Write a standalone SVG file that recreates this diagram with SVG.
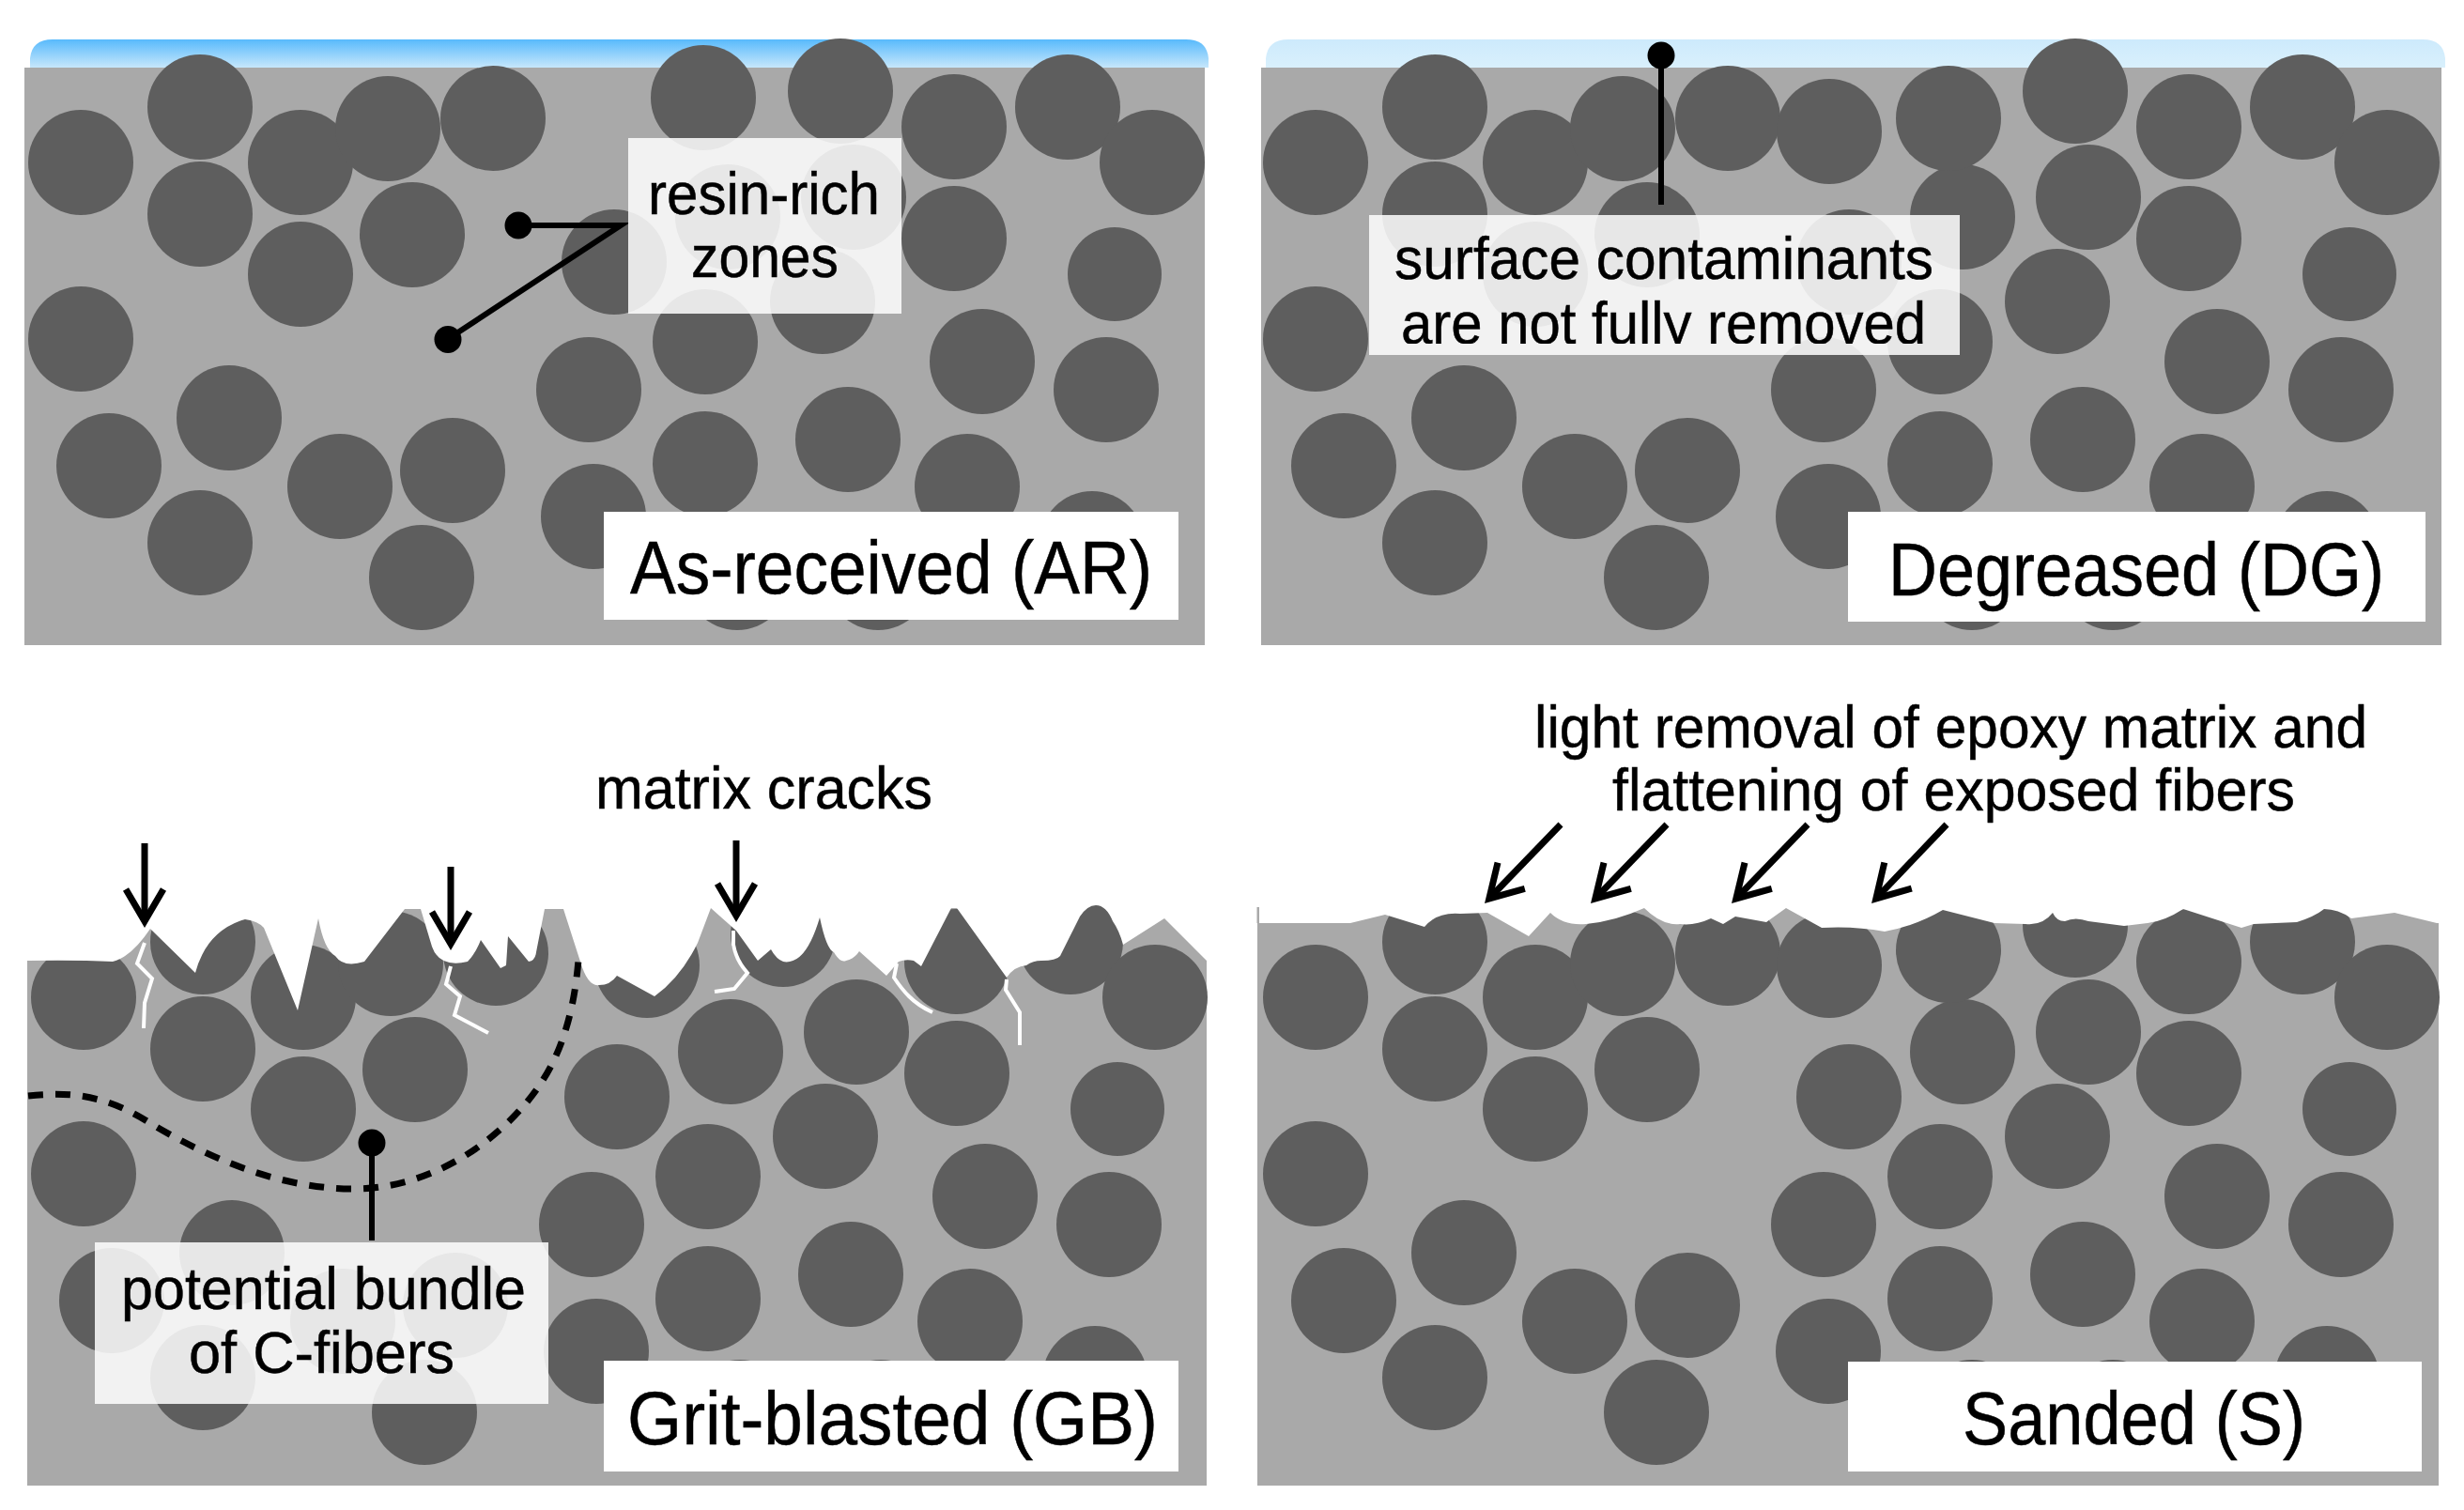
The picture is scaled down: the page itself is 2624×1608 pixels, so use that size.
<svg xmlns="http://www.w3.org/2000/svg" xmlns:xlink="http://www.w3.org/1999/xlink" width="2624" height="1608" viewBox="0 0 2624 1608">
<style>
.bg{fill:#fff}
.matrix{fill:#a9a9a9}
.fiber{fill:#5e5e5e}
.cut{fill:#fff}
.crack{fill:none;stroke:#fff;stroke-width:4;stroke-linejoin:miter}
.label{fill:#fff;fill-opacity:.85}
.title{fill:#fff}
text{font-family:"Liberation Sans",Arial,sans-serif;fill:#000;stroke:#000;stroke-width:.5;transform:translateY(1.5px)}
.s{font-size:63px}
.b{font-size:79px}
.pin{fill:none;stroke:#000;stroke-width:6}
.dot{fill:#000}
.arrow{fill:none;stroke:#000;stroke-width:7;marker-end:url(#head)}
.dash{fill:none;stroke:#000;stroke-width:7;stroke-dasharray:16 13}
</style>
<defs>
<linearGradient id="film1" x1="0" y1="0" x2="0" y2="1"><stop offset="0" stop-color="#58bafc"/><stop offset="1" stop-color="#c6e7fb"/></linearGradient>
<linearGradient id="film2" x1="0" y1="0" x2="0" y2="1"><stop offset="0" stop-color="#cdeafc"/><stop offset="1" stop-color="#d9f0fc"/></linearGradient>
<marker id="head" markerUnits="userSpaceOnUse" viewBox="-50 -30 60 60" markerWidth="60" markerHeight="60" refX="0" refY="0" orient="auto" overflow="visible"><path d="M-33,-20L1,0L-33,20" fill="none" stroke="#000" stroke-width="7"/></marker>
<clipPath id="clipDG"><rect x="1457" y="300" width="629" height="66"/></clipPath>
<g id="fibers" class="fiber">
<circle cx="86" cy="172" r="56"/><circle cx="213" cy="113" r="56"/><circle cx="213" cy="227" r="56"/><circle cx="320" cy="172" r="56"/><circle cx="413" cy="136" r="56"/><circle cx="525" cy="125" r="56"/><circle cx="320" cy="291" r="56"/><circle cx="439" cy="249" r="56"/><circle cx="1016" cy="134" r="56"/><circle cx="1137" cy="113" r="56"/><circle cx="1227" cy="172" r="56"/><circle cx="775" cy="230" r="56"/><circle cx="909" cy="209" r="56"/><circle cx="1016" cy="253" r="56"/><circle cx="876" cy="320" r="56"/><circle cx="1187" cy="291" r="50"/><circle cx="654" cy="278" r="56"/><circle cx="86" cy="360" r="56"/><circle cx="244" cy="444" r="56"/><circle cx="116" cy="495" r="56"/><circle cx="362" cy="517" r="56"/><circle cx="482" cy="500" r="56"/><circle cx="213" cy="577" r="56"/><circle cx="449" cy="614" r="56"/><circle cx="627" cy="414" r="56"/><circle cx="751" cy="363" r="56"/><circle cx="1046" cy="384" r="56"/><circle cx="1178" cy="414" r="56"/><circle cx="903" cy="467" r="56"/><circle cx="751" cy="493" r="56"/><circle cx="632" cy="549" r="56"/><circle cx="1030" cy="517" r="56"/><circle cx="1163" cy="578" r="56"/><circle cx="785" cy="614" r="56"/><circle cx="935" cy="614" r="56"/>
</g>
</defs>
<rect class="bg" width="2624" height="1608"/>
<g id="panel-AR">
<path d="M32 72V62Q34 42 56 42H1263Q1285 42 1287 62V72Z" fill="url(#film1)"/>
<rect class="matrix" x="26" y="72" width="1257" height="615"/>
<use xlink:href="#fibers" href="#fibers" transform="translate(0 1)"/>
<g class="fiber"><circle cx="749" cy="104" r="56"/><circle cx="895" cy="97" r="56"/></g>
</g>
<g id="panel-DG">
<path d="M1348 72V62Q1350 42 1372 42H2580Q2602 42 2604 62V72Z" fill="url(#film2)"/>
<rect class="matrix" x="1343" y="72" width="1257" height="615"/>
<use xlink:href="#fibers" href="#fibers" transform="translate(1315 1)"/>
<g class="fiber"><circle cx="1948" cy="140" r="56"/><circle cx="2075" cy="126" r="56"/><circle cx="2210" cy="97" r="56"/></g>
</g>
<g id="panel-GB">
<rect class="matrix" x="29" y="966" width="1256" height="616"/>
<use xlink:href="#fibers" href="#fibers" transform="translate(3 890)"/>
<g class="fiber"><circle cx="689" cy="1028" r="56"/><circle cx="834" cy="995" r="56"/></g>
<path class="cut" transform="translate(0 1)" d="M20 900V1022L29 1022Q80 1021 120 1023Q140 1018 160 988L208 1035Q220 990 261 978Q275 980 281 987L317 1075L339 977Q345 1010 357 1017Q366 1030 388 1023L431 967H448L460 1007Q468 1030 498 1023Q506 1015 512 1000L533 1030L539 1027L541 996L563 1023Q570 1022 571 1013L580 967H600L618 1023Q626 1050 638 1048Q650 1048 657 1038L697 1060Q725 1040 743 1003L757 966L784 990L807 1022L821 1010Q830 1026 841 1023Q860 1020 873 976Q880 1010 888 1013Q895 1025 901 1022Q910 1020 915 1012L944 1038L957 1023Q965 1020 973 1022L981 1028L1013 966H1019L1072 1040Q1080 1028 1093 1027Q1100 1022 1109 1022Q1125 1022 1129 1017Q1145 985 1150 975Q1158 963 1167 963Q1178 963 1185 980Q1192 990 1196 1005L1240 977L1285 1022L1290 1022V900Z"/>
<g transform="translate(0 1)">
<path class="crack" d="M154 1003L146 1025L162 1041L154 1067L153 1094"/>
<path class="crack" d="M480 1028L475 1047L490 1060L484 1080L520 1099"/>
<path class="crack" d="M781 990V1005Q784 1022 796 1035L782 1052L761 1055"/>
<path class="crack" d="M955 1025L952 1040Q960 1052 968 1060Q978 1070 993 1077"/>
<path class="crack" d="M1072 1042L1071 1053L1086 1077V1112"/>
</g>
</g>
<g id="panel-S">
<rect class="matrix" x="1339" y="966" width="1258" height="616"/>
<use xlink:href="#fibers" href="#fibers" transform="translate(1315 890)"/>
<g class="fiber"><circle cx="1948" cy="1028" r="56"/><circle cx="2075" cy="1012" r="56"/><circle cx="2210" cy="985" r="56"/></g>
<path class="cut" transform="translate(0 1)" d="M1341 900V982H1438L1475 973L1517 986Q1530 970 1555 972L1584 971L1628 996L1651 971Q1665 985 1689 983Q1720 980 1751 966Q1770 985 1789 983Q1805 985 1822 977L1835 983L1848 975L1881 981L1902 966L1940 987Q1975 985 2007 991Q2040 985 2069 968L2124 982L2157 983Q2175 985 2186 971Q2190 980 2199 980Q2210 975 2224 980L2262 985L2287 982Q2305 980 2325 967L2387 987L2400 983L2446 981Q2465 975 2475 967Q2490 967 2504 977L2550 971L2595 982H2600V900Z"/>
<path d="M1339.5 966V983" stroke="#a9a9a9" stroke-width="2" fill="none"/>
</g>
<g id="connectors">
<path class="pin" d="M552 240H661L477 361"/>
<circle class="dot" cx="552" cy="240" r="14.5"/><circle class="dot" cx="477" cy="361.500" r="14.5"/>
<path class="pin" d="M1769 59V218"/><circle class="dot" cx="1769" cy="59" r="14.5"/>
<g transform="translate(0 2)">
<path class="dash" d="M30 1165C75 1160 110 1165 150 1188C210 1225 290 1264 377 1264C470 1264 545 1200 577 1150C600 1115 612 1070 616 1020"/>
<path class="pin" d="M396 1215V1319"/><circle class="dot" cx="396" cy="1215" r="14.5"/>
<path class="arrow" d="M154 896V978"/>
<path class="arrow" d="M480 921V1002"/>
<path class="arrow" d="M784 893V972"/>
<path class="arrow" d="M1662 876L1586.500 954.200"/>
<path class="arrow" d="M1775 876L1699.500 954.200"/>
<path class="arrow" d="M1925 876L1849.500 954.200"/>
<path class="arrow" d="M2073 876L1998.500 954.200"/>
</g>
</g>
<g id="label-resin"><rect class="label" x="669" y="147" width="291" height="187"/>
<text class="s" x="690" y="226" textLength="247" lengthAdjust="spacingAndGlyphs">resin-rich</text>
<text class="s" x="736" y="293" textLength="157" lengthAdjust="spacingAndGlyphs">zones</text></g>
<g id="title-AR"><rect class="title" x="643" y="545" width="612" height="115"/>
<text class="b" x="671" y="630" textLength="556" lengthAdjust="spacingAndGlyphs">As-received (AR)</text></g>
<g id="label-contaminants"><rect class="label" x="1458" y="229" width="629" height="149"/>
<text class="s" x="1485" y="295" textLength="574" lengthAdjust="spacingAndGlyphs">surface contaminants</text>
<g clip-path="url(#clipDG)"><text class="s" x="1492" y="364" textLength="559" lengthAdjust="spacingAndGlyphs">are not fully removed</text></g></g>
<g id="title-DG"><rect class="title" x="1968" y="545" width="615" height="117"/>
<text class="b" x="2011" y="632" textLength="528" lengthAdjust="spacingAndGlyphs">Degreased (DG)</text></g>
<g id="label-cracks"><text class="s" x="634" y="859" textLength="359" lengthAdjust="spacingAndGlyphs">matrix cracks</text></g>
<g id="label-bundle"><rect class="label" x="101" y="1323" width="483" height="172"/>
<text class="s" x="129" y="1392" textLength="431" lengthAdjust="spacingAndGlyphs">potential bundle</text>
<text class="s" x="201" y="1460" textLength="283" lengthAdjust="spacingAndGlyphs">of C-fibers</text></g>
<g id="title-GB"><rect class="title" x="643" y="1449" width="612" height="118"/>
<text class="b" x="668" y="1536" textLength="565" lengthAdjust="spacingAndGlyphs">Grit-blasted (GB)</text></g>
<g id="label-removal"><text class="s" x="1634" y="794" textLength="887" lengthAdjust="spacingAndGlyphs">light removal of epoxy matrix and</text>
<text class="s" x="1717" y="861" textLength="727" lengthAdjust="spacingAndGlyphs">flattening of exposed fibers</text></g>
<g id="title-S"><rect class="title" x="1968" y="1450" width="611" height="117"/>
<text class="b" x="2090" y="1536" textLength="365" lengthAdjust="spacingAndGlyphs">Sanded (S)</text></g>
</svg>
